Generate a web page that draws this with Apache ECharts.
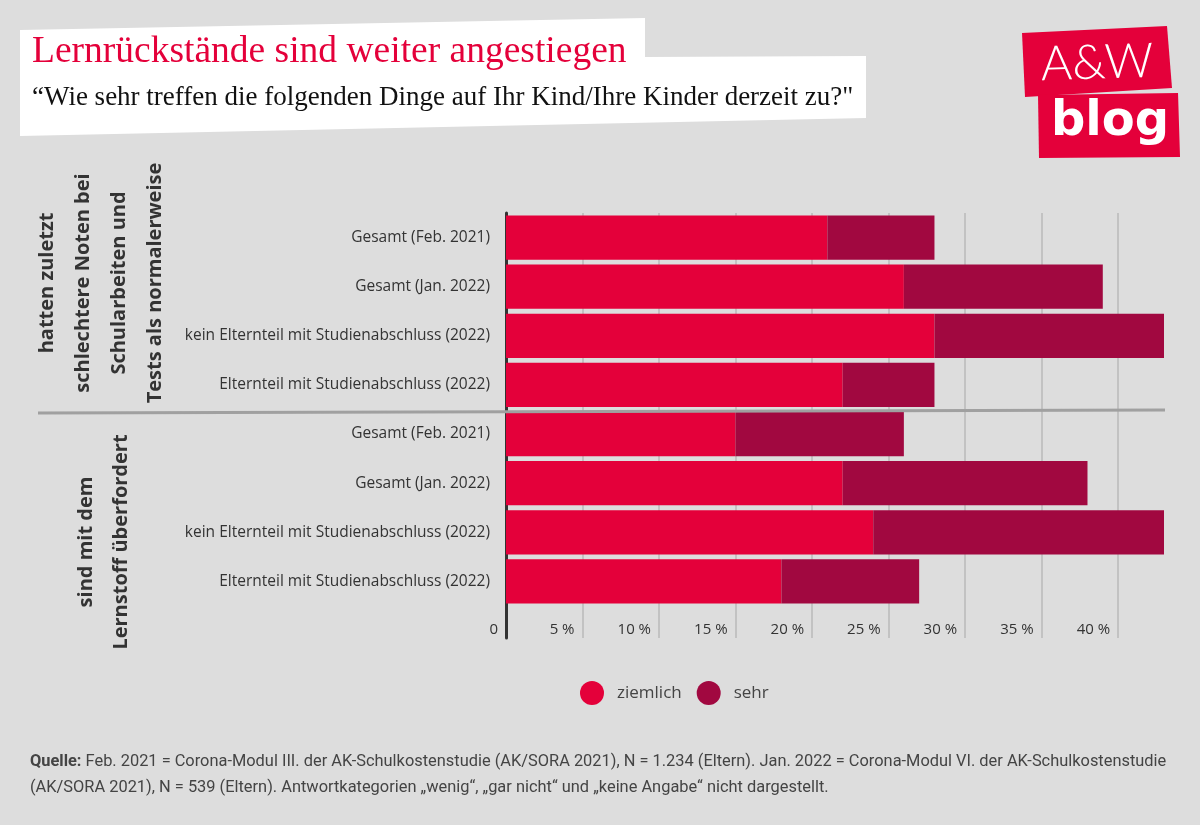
<!DOCTYPE html>
<html>
<head>
<meta charset="utf-8">
<script src="https://cdn.jsdelivr.net/npm/echarts@6/dist/echarts.min.js"></script>
<style>
html,body{margin:0;padding:0;background:#dddddd;}
#chart{width:1200px;height:825px;}
</style>
</head>
<body>
<div id="chart"></div>
<script>
const categories = [
  'Gesamt (Feb. 2021)',
  'Gesamt (Jan. 2022)',
  'kein Elternteil mit Studienabschluss (2022)',
  'Elternteil mit Studienabschluss (2022)',
  'Gesamt (Feb. 2021)',
  'Gesamt (Jan. 2022)',
  'kein Elternteil mit Studienabschluss (2022)',
  'Elternteil mit Studienabschluss (2022)'
];
const ziemlich = [21, 26, 28, 22, 15, 22, 24, 18];
const sehr = [7, 13, 15, 6, 11, 16, 19, 9];
const seriesNames = ['ziemlich', 'sehr'];
const groupLabels = [
  'hatten zuletzt\nschlechtere Noten bei\nSchularbeiten und\nTests als normalerweise',
  'sind mit dem\nLernstoff überfordert'
];
const titleText = 'Lernrückstände sind weiter angestiegen';
const subtitleText = '“Wie sehr treffen die folgenden Dinge auf Ihr Kind/Ihre Kinder derzeit zu?"';
const sourceLine1 = 'Feb. 2021 = Corona-Modul III. der AK-Schulkostenstudie (AK/SORA 2021), N = 1.234 (Eltern). Jan. 2022 = Corona-Modul VI. der AK-Schulkostenstudie';
const sourceLine2 = '(AK/SORA 2021), N = 539 (Eltern). Antwortkategorien „wenig“, „gar nicht“ und „keine Angabe“ nicht dargestellt.';

const RED = '#e4003a';
const DARK = '#a10840';
const FONT = '"Open Sans", "Noto Sans", sans-serif';

const chart = echarts.init(document.getElementById('chart'));

const xCommon = {
  type: 'value', min: 0, max: 43, interval: 5,
  axisLine: { show: false }, axisTick: { show: false },
  splitLine: { show: true, showMinLine: false, showMaxLine: false, lineStyle: { color: '#b8b8b8', width: 1.5 } }
};

chart.setOption({
  backgroundColor: '#dddddd',
  animation: false,
  grid: [
    { left: 506, right: 36, top: 213, height: 393 },
    { left: 506, right: 36, top: 606, height: 32 }
  ],
  xAxis: [
    Object.assign({ gridIndex: 0, axisLabel: { show: false } }, xCommon),
    Object.assign({ gridIndex: 1, position: 'bottom',
      axisLabel: { show: true, inside: true, margin: 8, verticalAlign: 'middle', align: 'right',
        padding: [0, 8, 0, 0], showMaxLabel: false, color: '#333', fontSize: 15, fontFamily: FONT,
        formatter: v => v === 0 ? '0' : v + ' %' } }, xCommon)
  ],
  yAxis: [
    { gridIndex: 0, type: 'category', data: categories, inverse: true,
      axisLine: { show: true, lineStyle: { color: '#333', width: 3 } },
      axisTick: { show: false },
      axisLabel: { margin: 16, color: '#333', fontSize: 15.5, fontFamily: FONT } },
    { gridIndex: 1, type: 'category', data: [''],
      axisLine: { show: true, lineStyle: { color: '#333', width: 3 } },
      axisTick: { show: false }, axisLabel: { show: false } }
  ],
  legend: {
    data: seriesNames, left: 575, top: 676, icon: 'circle', itemWidth: 24, itemHeight: 24, itemGap: 15,
    textStyle: { color: '#444', fontSize: 17, fontFamily: FONT, padding: [0, 0, 0, 8] }
  },
  series: [
    { name: seriesNames[0], type: 'bar', stack: 's', data: ziemlich, xAxisIndex: 0, yAxisIndex: 0,
      barCategoryGap: '10%', itemStyle: { color: RED } },
    { name: seriesNames[1], type: 'bar', stack: 's', data: sehr, xAxisIndex: 0, yAxisIndex: 0,
      barCategoryGap: '10%', itemStyle: { color: DARK } }
  ],
  graphic: [
    { type: 'polygon', z: 1, shape: { points: [[20,30],[645,18],[645,57],[866,56],[866,118],[20,136]] },
      style: { fill: '#ffffff' } },
    { type: 'text', z: 2, x: 32, y: 52, style: { text: titleText, fill: RED,
      font: '37.5px "Liberation Serif", serif', verticalAlign: 'middle' } },
    { type: 'text', z: 2, x: 32, y: 98, style: { text: subtitleText, fill: '#111',
      font: '27px "Liberation Serif", serif', verticalAlign: 'middle' } },
    { type: 'polygon', z: 1, shape: { points: [[1022,33],[1167,26],[1172,88],[1025,97]] }, style: { fill: RED } },
    { type: 'polygon', z: 1, shape: { points: [[1038,95],[1178,93],[1180,157],[1039,158]] }, style: { fill: RED } },
    { type: 'text', z: 2, x: 1097, y: 63, rotation: 0.03, style: { text: 'A&W', fill: '#fff',
      font: '300 48px Lato, sans-serif', align: 'center', verticalAlign: 'middle' } },
    { type: 'text', z: 2, x: 1110, y: 123, style: { text: 'blog', fill: '#fff',
      font: 'bold 48px "DejaVu Sans", sans-serif', align: 'center', verticalAlign: 'middle' } },
    { type: 'line', z: 3, shape: { x1: 38, y1: 413, x2: 1165, y2: 410 }, style: { stroke: '#a0a0a0', lineWidth: 3 } },
    { type: 'text', z: 2, x: 101, y: 283, rotation: Math.PI / 2, style: { text: groupLabels[0], fill: '#333',
      font: 'bold 20px ' + FONT, align: 'center', verticalAlign: 'middle', lineHeight: 36 } },
    { type: 'text', z: 2, x: 104, y: 542, rotation: Math.PI / 2, style: { text: groupLabels[1], fill: '#333',
      font: 'bold 20px ' + FONT, align: 'center', verticalAlign: 'middle', lineHeight: 35 } },
    { type: 'text', z: 2, x: 30, y: 762, style: { text: '{b|Quelle:} ' + sourceLine1, fill: '#444',
      font: '16.4px Roboto, sans-serif', verticalAlign: 'middle',
      rich: { b: { fontWeight: 'bold', fontSize: 16.4, fontFamily: 'Roboto', fill: '#444' } } } },
    { type: 'text', z: 2, x: 30, y: 788, style: { text: sourceLine2, fill: '#444',
      font: '16.4px Roboto, sans-serif', verticalAlign: 'middle' } }
  ]
});
</script>
</body>
</html>
